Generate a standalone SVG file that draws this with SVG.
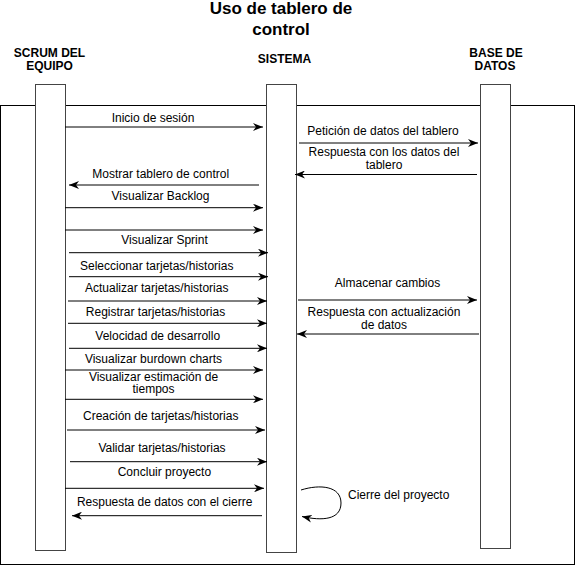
<svg xmlns="http://www.w3.org/2000/svg" width="576" height="566" viewBox="0 0 576 566">
<style>
text{font-family:"Liberation Sans",Arial,Helvetica,sans-serif;fill:#000}
.t{font-size:17px;font-weight:bold;text-anchor:middle}
.h{font-size:12px;font-weight:bold;text-anchor:middle}
.l{font-size:12px;text-anchor:middle}
.box{fill:#fff;stroke:#444;stroke-width:1}
.frame{fill:#fff;stroke:#000;stroke-width:1}
.msg{fill:none;stroke:#000;stroke-width:1;marker-end:url(#arr)}
</style>
<defs>
<marker id="arr" viewBox="0 0 10 8" markerWidth="10" markerHeight="8" refX="10" refY="4" orient="auto" markerUnits="userSpaceOnUse">
<path d="M0,0 L10,4 L0,8 L3,4 Z" fill="#000"/>
</marker>
</defs>
<rect width="576" height="566" fill="#fff"/>
<g id="title">
<text class="t" x="281" y="14">Uso de tablero de<tspan x="281" y="34.5">control</tspan></text>
</g>
<rect id="frame" class="frame" x="0.5" y="105.5" width="574" height="459"/>
<g id="scrum">
<text class="h" x="49.5" y="56.5">SCRUM DEL<tspan x="49.5" y="69.5">EQUIPO</tspan></text>
<rect class="box" x="35.5" y="84.5" width="30" height="466"/>
</g>
<g id="sistema">
<text class="h" x="284.5" y="62.7">SISTEMA</text>
<rect class="box" x="266.5" y="84.5" width="30" height="468"/>
</g>
<g id="basedatos">
<text class="h" x="496" y="56.5">BASE DE<tspan x="495" y="69.5">DATOS</tspan></text>
<rect class="box" x="480.5" y="84.5" width="30" height="464"/>
</g>
<g id="connectors">
<path class="msg" d="M65,127 L263,127"/>
<text class="l" x="153" y="122">Inicio de sesión</text>
<path class="msg" d="M299,143 L478,143"/>
<text class="l" x="383" y="135">Petición de datos del tablero</text>
<path class="msg" d="M477,174.5 L295,174.5"/>
<text class="l" x="384" y="155.5">Respuesta con los datos del<tspan x="384" y="168.6">tablero</tspan></text>
<path class="msg" d="M259,185 L69,185"/>
<text class="l" x="160.7" y="177.7">Mostrar tablero de control</text>
<path class="msg" d="M65,207.7 L263,207.7"/>
<text class="l" x="160.5" y="200">Visualizar Backlog</text>
<path class="msg" d="M65,230 L263,230"/>
<path class="msg" d="M69,252.7 L268,252.7"/>
<text class="l" x="164.5" y="244">Visualizar Sprint</text>
<path class="msg" d="M69,276.7 L268,276.7"/>
<text class="l" x="156.7" y="270">Seleccionar tarjetas/historias</text>
<path class="msg" d="M68,301 L267,301"/>
<text class="l" x="156.7" y="292.3">Actualizar tarjetas/historias</text>
<path class="msg" d="M68,323.3 L267,323.3"/>
<text class="l" x="155.5" y="316">Registrar tarjetas/historias</text>
<path class="msg" d="M69,348.3 L267,348.3"/>
<text class="l" x="157.7" y="340">Velocidad de desarrollo</text>
<path class="msg" d="M65,370 L263,370"/>
<text class="l" x="153.5" y="362.7">Visualizar burdown charts</text>
<path class="msg" d="M65,399.3 L263,399.3"/>
<text class="l" x="153.5" y="380.7">Visualizar estimación de<tspan x="153.5" y="393.3">tiempos</tspan></text>
<path class="msg" d="M67,430 L265,430"/>
<text class="l" x="160.7" y="420">Creación de tarjetas/historias</text>
<path class="msg" d="M70,461.7 L267,461.7"/>
<text class="l" x="162" y="451.7">Validar tarjetas/historias</text>
<path class="msg" d="M65,488.3 L264,488.3"/>
<text class="l" x="164.4" y="475.7">Concluir proyecto</text>
<path class="msg" d="M262,515.7 L72,515.7"/>
<text class="l" x="164.6" y="505.7">Respuesta de datos con el cierre</text>
<path class="msg" d="M298,300 L477,300"/>
<text class="l" x="387.5" y="286.7">Almacenar cambios</text>
<path class="msg" d="M479,334 L297,334"/>
<text class="l" x="384" y="316">Respuesta con actualización<tspan x="384" y="329.3">de datos</tspan></text>
<path class="msg" d="M301,490 C320,484 341,486 341,503 C341,520 322,521 302,516.5"/>
<text x="348" y="499" style="font-size:12px">Cierre del proyecto</text>
</g>
</svg>
